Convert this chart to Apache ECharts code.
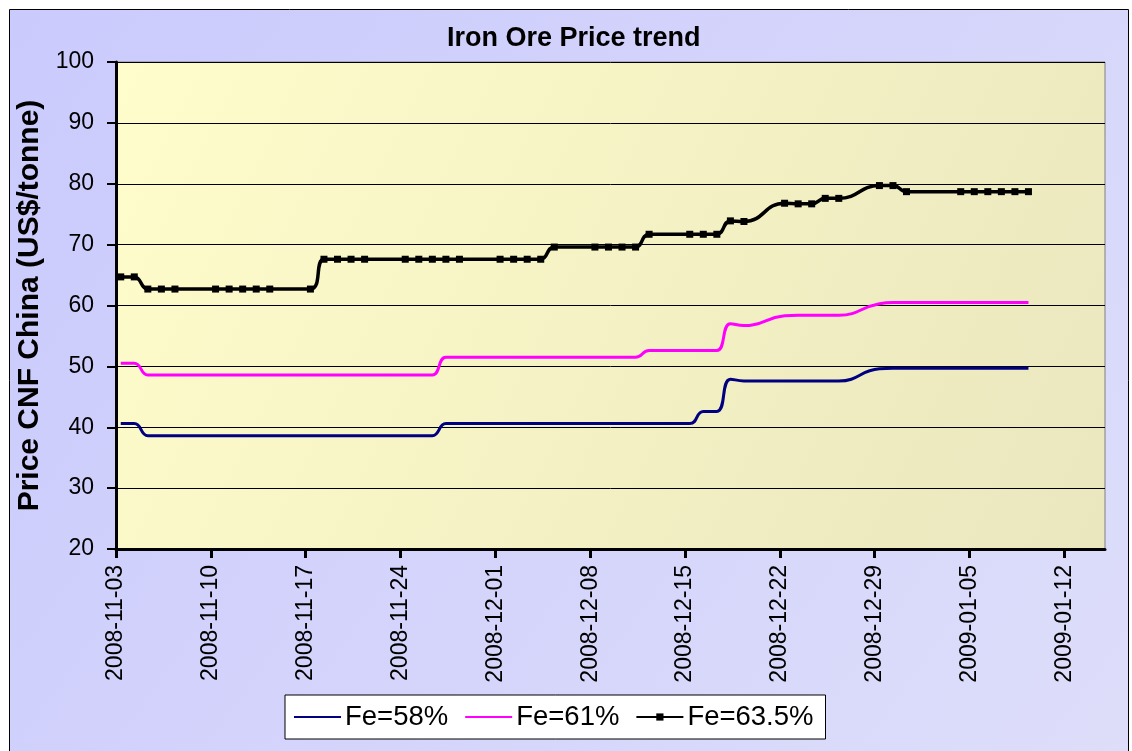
<!DOCTYPE html>
<html>
<head>
<meta charset="utf-8">
<script src="https://cdn.jsdelivr.net/npm/echarts@6/dist/echarts.min.js"></script>
<style>
html,body{margin:0;padding:0;background:#fff;}
#chart{width:1132px;height:751px;}
</style>
</head>
<body>
<div id="chart"></div>
<script>
// ---- data ----
const dates = [
  '2008-11-03','2008-11-04','2008-11-05','2008-11-06','2008-11-07',
  '2008-11-10','2008-11-11','2008-11-12','2008-11-13','2008-11-14',
  '2008-11-17','2008-11-18','2008-11-19','2008-11-20','2008-11-21',
  '2008-11-24','2008-11-25','2008-11-26','2008-11-27','2008-11-28',
  '2008-12-01','2008-12-02','2008-12-03','2008-12-04','2008-12-05',
  '2008-12-08','2008-12-09','2008-12-10','2008-12-11','2008-12-12',
  '2008-12-15','2008-12-16','2008-12-17','2008-12-18','2008-12-19',
  '2008-12-22','2008-12-23','2008-12-24','2008-12-25','2008-12-26',
  '2008-12-29','2008-12-30','2008-12-31',
  '2009-01-04','2009-01-05','2009-01-06','2009-01-07','2009-01-08','2009-01-09'
];
const fe58 = [
  40.6,40.6,38.6,38.6,38.6,
  38.6,38.6,38.6,38.6,38.6,
  38.6,38.6,38.6,38.6,38.6,
  38.6,38.6,38.6,40.6,40.6,
  40.6,40.6,40.6,40.6,40.6,
  40.6,40.6,40.6,40.6,40.6,
  40.6,42.6,42.6,47.9,47.6,
  47.6,47.6,47.6,47.6,47.6,
  49.6,49.7,49.7,
  49.7,49.7,49.7,49.7,49.7,49.7
];
const fe61 = [
  50.5,50.5,48.6,48.6,48.6,
  48.6,48.6,48.6,48.6,48.6,
  48.6,48.6,48.6,48.6,48.6,
  48.6,48.6,48.6,51.5,51.5,
  51.5,51.5,51.5,51.5,51.5,
  51.5,51.5,51.5,51.5,52.6,
  52.6,52.6,52.6,57.0,56.7,
  58.3,58.4,58.4,58.4,58.4,
  60.3,60.5,60.5,
  60.5,60.5,60.5,60.5,60.5,60.5
];
const fe635 = [
  64.7,64.7,62.7,62.7,62.7,
  62.7,62.7,62.7,62.7,62.7,
  62.7,67.6,67.6,67.6,67.6,
  67.6,67.6,67.6,67.6,67.6,
  67.6,67.6,67.6,67.6,69.6,
  69.6,69.6,69.6,69.6,71.7,
  71.7,71.7,71.7,73.9,73.8,
  76.8,76.7,76.7,77.6,77.6,
  79.7,79.7,78.7,
  78.7,78.7,78.7,78.7,78.7,78.7
];
const seriesNames = ['Fe=58%','Fe=61%','Fe=63.5%'];
const xTickLabels = ['2008-11-03','2008-11-10','2008-11-17','2008-11-24','2008-12-01','2008-12-08',
  '2008-12-15','2008-12-22','2008-12-29','2009-01-05','2009-01-12'];
const axisEndDate = '2009-01-15';
const yMin = 20, yMax = 100, yStep = 10;

// ---- helpers ----
const DAY = 86400000;
const origin = Date.parse(xTickLabels[0]);
const dayIndex = d => (Date.parse(d) - origin) / DAY;
const SLOT_OFFSET = 0.35; // each day's value is drawn inside its day slot, as in the original
const toPoints = vals => dates.map((d, i) => [dayIndex(d) + SLOT_OFFSET, vals[i]]);
const tickDays = xTickLabels.map(dayIndex);

const FONT = 'Arial, "Liberation Sans", sans-serif';
const chart = echarts.init(document.getElementById('chart'), null, {renderer: 'canvas'});

chart.setOption({
  animation: false,
  backgroundColor: '#ffffff',
  graphic: [{
    type: 'rect', z: -10, silent: true,
    shape: {x: 9.5, y: 9.5, width: 1119, height: 800},
    style: {
      fill: new echarts.graphic.LinearGradient(0, 0, 1, 1, [
        {offset: 0, color: '#CACAFD'}, {offset: 1, color: '#DEDEFA'}
      ]),
      stroke: '#000', lineWidth: 1
    }
  }],
  title: {
    text: 'Iron Ore Price trend',
    left: 442, top: 20,
    textStyle: {fontFamily: FONT, fontSize: 27, fontWeight: 'bold', color: '#000'}
  },
  grid: {
    left: 116, right: 27, top: 62, bottom: 202,
    show: true,
    backgroundColor: new echarts.graphic.LinearGradient(0, 0, 1, 1, [
      {offset: 0, color: '#FFFDCB'}, {offset: 1, color: '#EAE6BE'}
    ]),
    borderColor: '#808080', borderWidth: 1
  },
  legend: {
    left: 285, top: 695,
    padding: [8, 12, 8, 8],
    itemGap: 16, itemWidth: 47, itemHeight: 9,
    backgroundColor: '#fff', borderColor: '#000', borderWidth: 1,
    textStyle: {fontFamily: FONT, fontSize: 27.5, color: '#000', padding: [0, 0, 0, -1]},
    data: [
      {name: seriesNames[0], itemStyle: {opacity: 0}},
      {name: seriesNames[1], itemStyle: {opacity: 0}},
      {name: seriesNames[2]}
    ]
  },
  xAxis: {
    type: 'value',
    min: 0, max: dayIndex(axisEndDate),
    interval: 7,
    axisLine: {show: true, onZero: false, lineStyle: {color: '#000', width: 3}},
    axisTick: {show: true, length: 9, customValues: tickDays, lineStyle: {color: '#000', width: 3}},
    axisLabel: {
      customValues: tickDays,
      rotate: 90, margin: 16,
      fontFamily: FONT, fontSize: 23, color: '#000',
      formatter: v => xTickLabels[tickDays.indexOf(Math.round(v))] || ''
    },
    splitLine: {show: false}
  },
  yAxis: {
    type: 'value',
    min: yMin, max: yMax, interval: yStep,
    name: 'Price CNF China (US$/tonne)',
    nameLocation: 'middle', nameRotate: 90, nameGap: 62,
    nameTextStyle: {fontFamily: FONT, fontSize: 30, fontWeight: 'bold', color: '#000'},
    axisLine: {show: true, lineStyle: {color: '#000', width: 3}},
    axisTick: {show: true, length: 9, lineStyle: {color: '#000', width: 2}},
    axisLabel: {margin: 22, fontFamily: FONT, fontSize: 23, color: '#000'},
    splitLine: {show: true, lineStyle: {color: '#000', width: 1}}
  },
  series: [
    {
      name: seriesNames[0], type: 'line', data: toPoints(fe58),
      smooth: 0.5, symbol: 'none',
      lineStyle: {color: '#000080', width: 3}, itemStyle: {color: '#000080'},
      emphasis: {disabled: true}
    },
    {
      name: seriesNames[1], type: 'line', data: toPoints(fe61),
      smooth: 0.5, symbol: 'none',
      lineStyle: {color: '#FF00FF', width: 3}, itemStyle: {color: '#FF00FF'},
      emphasis: {disabled: true}
    },
    {
      name: seriesNames[2], type: 'line', data: toPoints(fe635),
      smooth: 0.5, symbol: 'rect', symbolSize: 7, showAllSymbol: true,
      lineStyle: {color: '#000', width: 3.5}, itemStyle: {color: '#000'},
      emphasis: {disabled: true}
    }
  ]
});
</script>
</body>
</html>
